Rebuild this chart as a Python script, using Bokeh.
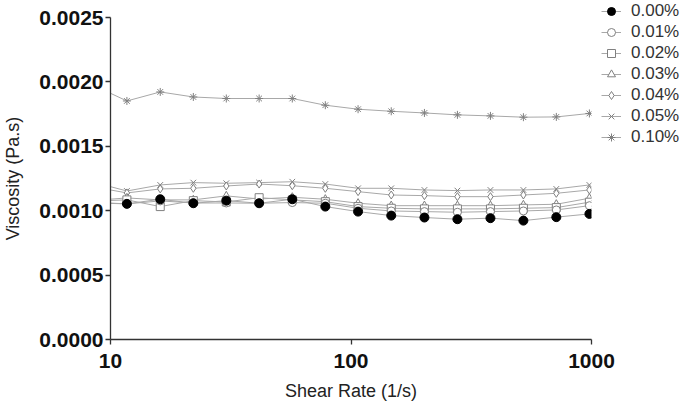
from bokeh.plotting import figure
from bokeh.models import (Range1d, FixedTicker, NumeralTickFormatter, Legend, LegendItem)
from bokeh.embed import file_html
from bokeh.resources import INLINE

# ---- data ----
shear_rate = [8.55, 11.7, 16.1, 22.1, 30.3, 41.5, 57.0, 78.2, 107, 147, 202, 277, 380, 521, 714, 980]

visc_000 = [0.001060, 0.001053, 0.001089, 0.001058, 0.001078, 0.001058, 0.001089, 0.001032,
            0.000993, 0.000962, 0.000947, 0.000934, 0.000942, 0.000923, 0.000950, 0.000975]
visc_001 = [0.001065, 0.001053, 0.001076, 0.001060, 0.001060, 0.001058, 0.001063, 0.001058,
            0.001019, 0.000998, 0.000993, 0.000988, 0.000993, 0.000998, 0.001006, 0.001039]
visc_002 = [0.001075, 0.001084, 0.001032, 0.001078, 0.001068, 0.001101, 0.001084, 0.001070,
            0.001032, 0.001019, 0.001014, 0.001014, 0.001014, 0.001019, 0.001024, 0.001066]
visc_003 = [0.001080, 0.001099, 0.001084, 0.001084, 0.001115, 0.001091, 0.001104, 0.001089,
            0.001058, 0.001039, 0.001039, 0.001039, 0.001039, 0.001045, 0.001050, 0.001097]
visc_004 = [0.001184, 0.001138, 0.001169, 0.001174, 0.001192, 0.001207, 0.001194, 0.001174,
            0.001148, 0.001122, 0.001117, 0.001109, 0.001109, 0.001122, 0.001135, 0.001161]
visc_005 = [0.001220, 0.001153, 0.001200, 0.001218, 0.001213, 0.001218, 0.001225, 0.001207,
            0.001174, 0.001174, 0.001161, 0.001156, 0.001161, 0.001161, 0.001169, 0.001200]
visc_010 = [0.001971, 0.001852, 0.001922, 0.001883, 0.001871, 0.001871, 0.001871, 0.001819,
            0.001788, 0.001772, 0.001759, 0.001744, 0.001736, 0.001726, 0.001728, 0.001755]

series_labels = ["0.00%", "0.01%", "0.02%", "0.03%", "0.04%", "0.05%", "0.10%"]
series_values = [visc_000, visc_001, visc_002, visc_003, visc_004, visc_005, visc_010]
series_markers = ["circle", "circle", "square", "triangle", "diamond", "x", "asterisk"]

x_ticks = [10, 100, 1000]
y_ticks = [0.0, 0.0005, 0.0010, 0.0015, 0.0020, 0.0025]

FONT = "Liberation Sans"
LINE_COLOR = "#a8a8a8"
MARK_COLOR = "#808080"

p = figure(frame_width=481, frame_height=322, x_axis_type="log",
           x_range=Range1d(10, 1000), y_range=Range1d(0, 0.0025),
           output_backend="svg", toolbar_location=None,
           min_border_left=109, min_border_right=0, min_border_top=17, min_border_bottom=62)

p.outline_line_color = None
p.grid.visible = False
p.background_fill_color = "white"

items = []
renderers = {}
for lab, vals, mk in reversed(list(zip(series_labels, series_values, series_markers))):
    ln = p.line(shear_rate, vals, line_color=LINE_COLOR, line_width=1)
    if lab == "0.00%":
        sc = p.scatter(shear_rate, vals, marker=mk, size=9, fill_color="black", line_color="black")
    else:
        sc = p.scatter(shear_rate, vals, marker=mk, size=8, fill_color="white",
                       line_color=MARK_COLOR, line_width=1)
    renderers[lab] = [ln, sc]

for lab in series_labels:
    items.append(LegendItem(label=lab, renderers=renderers[lab]))

legend = Legend(items=items, location=(10, 192), orientation="vertical",
                glyph_width=20, glyph_height=20, spacing=1, padding=2, margin=0,
                label_standoff=10, label_text_font=FONT, label_text_font_size="17px",
                label_text_color="#333333", border_line_color=None,
                background_fill_alpha=0, label_width=50)
p.add_layout(legend, "right")

for ax in (p.xaxis[0], p.yaxis[0]):
    ax.axis_line_color = "#333333"
    ax.axis_line_width = 1.3
    ax.major_tick_line_color = "#333333"
    ax.major_tick_line_width = 1.3
    ax.major_tick_out = 5
    ax.major_tick_in = 0
    ax.minor_tick_out = 0
    ax.minor_tick_in = 0
    ax.major_label_text_font = FONT
    ax.major_label_text_font_size = "21px"
    ax.major_label_text_font_style = "bold"
    ax.major_label_text_color = "#111111"
    ax.axis_label_text_font = FONT
    ax.axis_label_text_font_size = "18px"
    ax.axis_label_text_font_style = "normal"
    ax.axis_label_text_color = "#222222"

p.xaxis.ticker = FixedTicker(ticks=x_ticks)
p.xaxis.formatter = NumeralTickFormatter(format="0")
p.xaxis.axis_label = "Shear Rate (1/s)"
p.xaxis.major_label_standoff = 9
p.xaxis.axis_label_standoff = 10

p.yaxis.ticker = FixedTicker(ticks=y_ticks)
p.yaxis.formatter = NumeralTickFormatter(format="0.0000")
p.yaxis.axis_label = "Viscosity (Pa.s)"
p.yaxis.major_label_standoff = 2
p.yaxis.axis_label_standoff = 13

open("out.html", "w").write(file_html(p, INLINE))
